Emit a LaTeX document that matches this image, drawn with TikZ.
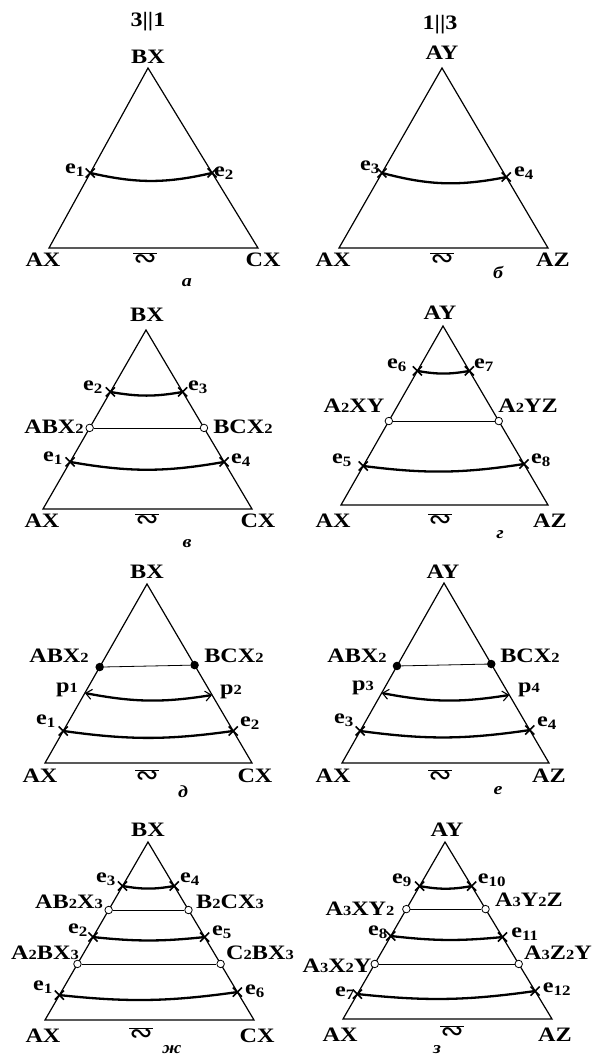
\documentclass[tikz,border=0pt]{standalone}
\usepackage{fontspec}
\setmainfont{Liberation Serif}[FakeStretch=1.18]
\newfontfamily\symfont{DejaVu Sans}
\usepackage{tikz}
\usetikzlibrary{arrows.meta, positioning, calc, shapes.misc}

\newcommand{\esub}[1]{\textsubscript{#1}}
\newcommand{\idx}[1]{{\fontsize{14}{14}\selectfont #1}}
\newcommand{\apx}{$\overline{\hbox{\symfont ∾}}$}

\begin{document}
\begin{tikzpicture}[x=1pt, y=-1pt,
  tri/.style={line width=1.2pt},
  liq/.style={line width=2.3pt},
  tieline/.style={line width=0.8pt},
  eut/.style={draw, cross out, line width=1.6pt, minimum size=7.5pt, inner sep=0pt},
  cmp/.style={draw, circle, fill=white, line width=0.8pt, minimum size=7.5pt, inner sep=0pt},
  cmpi/.style={circle, fill=black, minimum size=8.5pt, inner sep=0pt},
  per/.style={liq, {Straight Barb[line width=1.1pt, length=6pt, width=10pt]}-{Straight Barb[line width=1.1pt, length=6pt, width=10pt]}},
  lbl/.style={font=\bfseries\fontsize{20.5}{21}\selectfont, inner sep=0pt},
  symlbl/.style={font=\fontsize{28}{28}\selectfont, inner sep=0pt},
  panelname/.style={font=\bfseries\itshape\fontsize{17}{17}\selectfont, inner sep=0pt}]
  \useasboundingbox[fill=white] (0,0) rectangle (594,1056);

  % --- a: 3||1 ---
  \coordinate (a-T) at (148,68);
  \coordinate (a-L) at (49,248);
  \coordinate (a-R) at (258,248);
  \draw[tri] (a-L) -- (a-T) -- (a-R) -- cycle;
  \node[lbl] (a-title) at (148,22) {3||1};
  \node[lbl] (a-BX) at (148,57) {BX};
  \node[lbl] (a-AX) at (43,260) {AX};
  \node[lbl] (a-CX) at (263,260) {CX};
  \node[symlbl] (a-sym) at (145,260) {\apx};
  \node[panelname] (a-name) at (187,283) {а};
  \node[eut] (a-e1) at ($(a-L)!0.417!(a-T)$) {};
  \node[eut] (a-e2) at ($(a-R)!0.417!(a-T)$) {};
  \draw[liq] (a-e1.center) to[bend right=13] (a-e2.center);
  \node[lbl] (a-e1-l) at (75,170) {e\esub{1}};
  \node[lbl] (a-e2-l) at (224,173) {e\esub{2}};

  % --- b: 1||3 ---
  \coordinate (b-T) at (442,68);
  \coordinate (b-L) at (339,248);
  \coordinate (b-R) at (548,248);
  \draw[tri] (b-L) -- (b-T) -- (b-R) -- cycle;
  \node[lbl] (b-title) at (440,25) {1||3};
  \node[lbl] (b-AY) at (442,53) {AY};
  \node[lbl] (b-AX) at (333,260) {AX};
  \node[lbl] (b-AZ) at (553,260) {AZ};
  \node[symlbl] (b-sym) at (442,260) {\apx};
  \node[panelname] (b-name) at (498,272) {б};
  \node[eut] (b-e3) at ($(b-L)!0.417!(b-T)$) {};
  \node[eut] (b-e4) at ($(b-R)!0.394!(b-T)$) {};
  \draw[liq] (b-e3.center) to[bend right=13] (b-e4.center);
  \node[lbl] (b-e3-l) at (370,167) {e\esub{3}};
  \node[lbl] (b-e4-l) at (524,173) {e\esub{4}};

  % --- v ---
  \coordinate (v-T) at (146,330);
  \coordinate (v-L) at (43,509);
  \coordinate (v-R) at (252,509);
  \draw[tri] (v-L) -- (v-T) -- (v-R) -- cycle;
  \node[lbl] (v-BX) at (147,315) {BX};
  \node[lbl] (v-AX) at (42,521) {AX};
  \node[lbl] (v-CX) at (258,521) {CX};
  \node[symlbl] (v-sym) at (147,521) {\apx};
  \node[panelname] (v-name) at (187,544) {в};
  \node[eut] (v-e2) at ($(v-L)!0.654!(v-T)$) {};
  \node[eut] (v-e3) at ($(v-R)!0.654!(v-T)$) {};
  \draw[liq] (v-e2.center) to[bend right=10] (v-e3.center);
  \node[cmp] (v-ABX) at ($(v-L)!0.453!(v-T)$) {};
  \node[cmp] (v-BCX) at ($(v-R)!0.453!(v-T)$) {};
  \draw[tieline] (v-ABX) -- (v-BCX);
  \node[eut] (v-e1) at ($(v-L)!0.263!(v-T)$) {};
  \node[eut] (v-e4) at ($(v-R)!0.263!(v-T)$) {};
  \draw[liq] (v-e1.center) to[bend right=10] (v-e4.center);
  \node[lbl] (v-e2-l) at (93,387) {e\esub{2}};
  \node[lbl] (v-e3-l) at (198,387) {e\esub{3}};
  \node[lbl] (v-ABX-l) at (54,427) {ABX\idx{2}};
  \node[lbl] (v-BCX-l) at (243,427) {BCX\idx{2}};
  \node[lbl] (v-e1-l) at (53,458) {e\esub{1}};
  \node[lbl] (v-e4-l) at (241,460) {e\esub{4}};

  % --- g ---
  \coordinate (g-T) at (443,326);
  \coordinate (g-L) at (341,505);
  \coordinate (g-R) at (548,505);
  \draw[tri] (g-L) -- (g-T) -- (g-R) -- cycle;
  \node[lbl] (g-AY) at (440,313) {AY};
  \node[lbl] (g-AX) at (333,521) {AX};
  \node[lbl] (g-AZ) at (550,521) {AZ};
  \node[symlbl] (g-sym) at (440,521) {\apx};
  \node[panelname] (g-name) at (500,535) {г};
  \node[eut] (g-e6) at ($(g-L)!0.749!(g-T)$) {};
  \node[eut] (g-e7) at ($(g-R)!0.749!(g-T)$) {};
  \draw[liq] (g-e6.center) to[bend right=10] (g-e7.center);
  \node[cmp] (g-AXY) at ($(g-L)!0.469!(g-T)$) {};
  \node[cmp] (g-AYZ) at ($(g-R)!0.469!(g-T)$) {};
  \draw[tieline] (g-AXY) -- (g-AYZ);
  \node[eut] (g-e5) at ($(g-L)!0.218!(g-T)$) {};
  \node[eut] (g-e8) at ($(g-R)!0.229!(g-T)$) {};
  \draw[liq] (g-e5.center) to[bend right=8] (g-e8.center);
  \node[lbl] (g-e6-l) at (397,365) {e\esub{6}};
  \node[lbl] (g-e7-l) at (484,365) {e\esub{7}};
  \node[lbl] (g-AXY-l) at (354,406) {A\idx{2}XY};
  \node[lbl] (g-AYZ-l) at (528,406) {A\idx{2}YZ};
  \node[lbl] (g-e5-l) at (342,460) {e\esub{5}};
  \node[lbl] (g-e8-l) at (541,460) {e\esub{8}};

  % --- d ---
  \coordinate (d-T) at (147,584);
  \coordinate (d-L) at (45,763);
  \coordinate (d-R) at (252,763);
  \draw[tri] (d-L) -- (d-T) -- (d-R) -- cycle;
  \node[lbl] (d-BX) at (147,572) {BX};
  \node[lbl] (d-AX) at (40,776) {AX};
  \node[lbl] (d-CX) at (255,776) {CX};
  \node[symlbl] (d-sym) at (147,777) {\apx};
  \node[panelname] (d-name) at (183,792) {д};
  \node[cmpi] (d-ABX) at ($(d-L)!0.536!(d-T)$) {};
  \node[cmpi] (d-BCX) at ($(d-R)!0.547!(d-T)$) {};
  \draw[tieline] (d-ABX) -- (d-BCX);
  \coordinate (d-p1) at ($(d-L)!0.391!(d-T)$);
  \coordinate (d-p2) at ($(d-R)!0.380!(d-T)$);
  \draw[per] (d-p1) to[bend right=10] (d-p2);
  \node[eut] (d-e1) at ($(d-L)!0.179!(d-T)$) {};
  \node[eut] (d-e2) at ($(d-R)!0.179!(d-T)$) {};
  \draw[liq] (d-e1.center) to[bend right=8] (d-e2.center);
  \node[lbl] (d-ABX-l) at (59,656) {ABX\idx{2}};
  \node[lbl] (d-BCX-l) at (234,656) {BCX\idx{2}};
  \node[lbl] (d-p1-l) at (67,690) {p\idx{1}};
  \node[lbl] (d-p2-l) at (231,692) {p\idx{2}};
  \node[lbl] (d-e1-l) at (46,721) {e\esub{1}};
  \node[lbl] (d-e2-l) at (250,723) {e\esub{2}};

  % --- e ---
  \coordinate (e-T) at (444,583);
  \coordinate (e-L) at (342,763);
  \coordinate (e-R) at (549,763);
  \draw[tri] (e-L) -- (e-T) -- (e-R) -- cycle;
  \node[lbl] (e-AY) at (443,572) {AY};
  \node[lbl] (e-AX) at (333,776) {AX};
  \node[lbl] (e-AZ) at (549,776) {AZ};
  \node[symlbl] (e-sym) at (440,777) {\apx};
  \node[panelname] (e-name) at (498,791) {е};
  \node[cmpi] (e-ABX) at ($(e-L)!0.539!(e-T)$) {};
  \node[cmpi] (e-BCX) at ($(e-R)!0.550!(e-T)$) {};
  \draw[tieline] (e-ABX) -- (e-BCX);
  \coordinate (e-p3) at ($(e-L)!0.389!(e-T)$);
  \coordinate (e-p4) at ($(e-R)!0.378!(e-T)$);
  \draw[per] (e-p3) to[bend right=10] (e-p4);
  \node[eut] (e-e3) at ($(e-L)!0.178!(e-T)$) {};
  \node[eut] (e-e4) at ($(e-R)!0.183!(e-T)$) {};
  \draw[liq] (e-e3.center) to[bend right=8] (e-e4.center);
  \node[lbl] (e-ABX-l) at (357,656) {ABX\idx{2}};
  \node[lbl] (e-BCX-l) at (530,656) {BCX\idx{2}};
  \node[lbl] (e-p3-l) at (363,688) {p\idx{3}};
  \node[lbl] (e-p4-l) at (529,690) {p\idx{4}};
  \node[lbl] (e-e3-l) at (344,720) {e\esub{3}};
  \node[lbl] (e-e4-l) at (547,723) {e\esub{4}};

  % --- zh ---
  \coordinate (zh-T) at (148,842);
  \coordinate (zh-L) at (45,1020);
  \coordinate (zh-R) at (254,1020);
  \draw[tri] (zh-L) -- (zh-T) -- (zh-R) -- cycle;
  \node[lbl] (zh-BX) at (148,830) {BX};
  \node[lbl] (zh-AX) at (43,1036) {AX};
  \node[lbl] (zh-CX) at (257,1036) {CX};
  \node[symlbl] (zh-sym) at (141,1035) {\apx};
  \node[panelname] (zh-name) at (172,1050) {ж};
  \node[eut] (zh-e3) at ($(zh-L)!0.753!(zh-T)$) {};
  \node[eut] (zh-e4) at ($(zh-R)!0.753!(zh-T)$) {};
  \draw[liq] (zh-e3.center) to[bend right=10] (zh-e4.center);
  \node[cmp] (zh-ABX) at ($(zh-L)!0.618!(zh-T)$) {};
  \node[cmp] (zh-BCX) at ($(zh-R)!0.618!(zh-T)$) {};
  \draw[tieline] (zh-ABX) -- (zh-BCX);
  \node[eut] (zh-e2) at ($(zh-L)!0.466!(zh-T)$) {};
  \node[eut] (zh-e5) at ($(zh-R)!0.466!(zh-T)$) {};
  \draw[liq] (zh-e2.center) to[bend right=6] (zh-e5.center);
  \node[cmp] (zh-ABX3) at ($(zh-L)!0.315!(zh-T)$) {};
  \node[cmp] (zh-CBX3) at ($(zh-R)!0.315!(zh-T)$) {};
  \draw[tieline] (zh-ABX3) -- (zh-CBX3);
  \node[eut] (zh-e1) at ($(zh-L)!0.140!(zh-T)$) {};
  \node[eut] (zh-e6) at ($(zh-R)!0.157!(zh-T)$) {};
  \draw[liq] (zh-e1.center) to[bend right=7] (zh-e6.center);
  \node[lbl] (zh-e3-l) at (106,879) {e\esub{3}};
  \node[lbl] (zh-e4-l) at (190,879) {e\esub{4}};
  \node[lbl] (zh-ABX-l) at (69,902) {AB\idx{2}X\idx{3}};
  \node[lbl] (zh-BCX-l) at (230,902) {B\idx{2}CX\idx{3}};
  \node[lbl] (zh-e2-l) at (78,930) {e\esub{2}};
  \node[lbl] (zh-e5-l) at (222,932) {e\esub{5}};
  \node[lbl] (zh-ABX3-l) at (45,953) {A\idx{2}BX\idx{3}};
  \node[lbl] (zh-CBX3-l) at (260,953) {C\idx{2}BX\idx{3}};
  \node[lbl] (zh-e1-l) at (43,987) {e\esub{1}};
  \node[lbl] (zh-e6-l) at (255,991) {e\esub{6}};

  % --- z ---
  \coordinate (z-T) at (445,842);
  \coordinate (z-L) at (343,1019);
  \coordinate (z-R) at (552,1019);
  \draw[tri] (z-L) -- (z-T) -- (z-R) -- cycle;
  \node[lbl] (z-AY) at (447,830) {AY};
  \node[lbl] (z-AX) at (340,1035) {AX};
  \node[lbl] (z-AZ) at (555,1035) {AZ};
  \node[symlbl] (z-sym) at (452,1033) {\apx};
  \node[panelname] (z-name) at (437,1050) {з};
  \node[eut] (z-e9) at ($(z-L)!0.751!(z-T)$) {};
  \node[eut] (z-e10) at ($(z-R)!0.751!(z-T)$) {};
  \draw[liq] (z-e9.center) to[bend right=10] (z-e10.center);
  \node[cmp] (z-AXY) at ($(z-L)!0.621!(z-T)$) {};
  \node[cmp] (z-AYZ) at ($(z-R)!0.621!(z-T)$) {};
  \draw[tieline] (z-AXY) -- (z-AYZ);
  \node[eut] (z-e8) at ($(z-L)!0.469!(z-T)$) {};
  \node[eut] (z-e11) at ($(z-R)!0.463!(z-T)$) {};
  \draw[liq] (z-e8.center) to[bend right=6] (z-e11.center);
  \node[cmp] (z-AXXY) at ($(z-L)!0.311!(z-T)$) {};
  \node[cmp] (z-AZZY) at ($(z-R)!0.311!(z-T)$) {};
  \draw[tieline] (z-AXXY) -- (z-AZZY);
  \node[eut] (z-e7) at ($(z-L)!0.141!(z-T)$) {};
  \node[eut] (z-e12) at ($(z-R)!0.158!(z-T)$) {};
  \draw[liq] (z-e7.center) to[bend right=7] (z-e12.center);
  \node[lbl] (z-e9-l) at (402,880) {e\esub{9}};
  \node[lbl] (z-e10-l) at (492,880) {e\esub{10}};
  \node[lbl] (z-AXY-l) at (360,909) {A\idx{3}XY\idx{2}};
  \node[lbl] (z-AYZ-l) at (529,900) {A\idx{3}Y\idx{2}Z};
  \node[lbl] (z-e8-l) at (378,932) {e\esub{8}};
  \node[lbl] (z-e11-l) at (525,934) {e\esub{11}};
  \node[lbl] (z-AXXY-l) at (337,966) {A\idx{3}X\idx{2}Y};
  \node[lbl] (z-AZZY-l) at (558,953) {A\idx{3}Z\idx{2}Y};
  \node[lbl] (z-e7-l) at (345,993) {e\esub{7}};
  \node[lbl] (z-e12-l) at (557,989) {e\esub{12}};
\end{tikzpicture}
\end{document}
